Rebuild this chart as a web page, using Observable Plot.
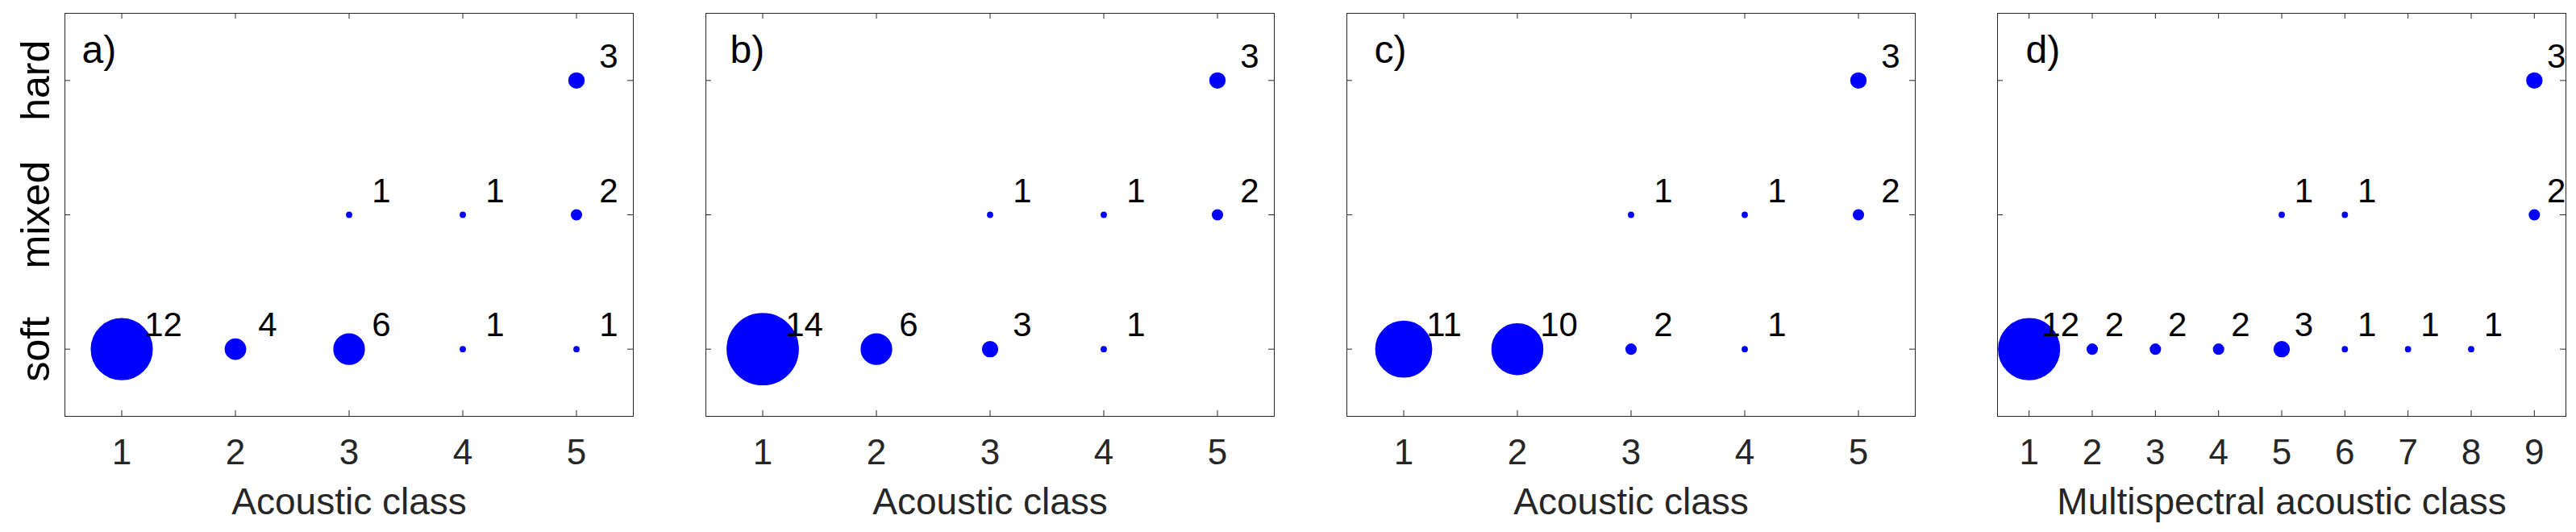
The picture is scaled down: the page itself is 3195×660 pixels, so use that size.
<!DOCTYPE html>
<html><head><meta charset="utf-8">
<script src="https://cdn.jsdelivr.net/npm/d3@7"></script>
<script src="https://cdn.jsdelivr.net/npm/@observablehq/plot@0.6"></script>
<style>
html,body{margin:0;padding:0;background:#fff;}
#wrap{position:relative;width:3195px;height:660px;overflow:hidden;background:#fff;}
#wrap svg{position:absolute;top:0;}
</style></head><body><div id="wrap"></div>
<script>
// ---- data ----
const substrates = ["soft", "mixed", "hard"];
const acousticTicks = [1, 2, 3, 4, 5];
const multispectralTicks = [1, 2, 3, 4, 5, 6, 7, 8, 9];
const panelLabels = ["a)", "b)", "c)", "d)"];
const xTitles = ["Acoustic class", "Acoustic class", "Acoustic class", "Multispectral acoustic class"];

const aClass = [1, 2, 3, 4, 5, 3, 4, 5, 5];
const aSubstrate = ["soft", "soft", "soft", "soft", "soft", "mixed", "mixed", "mixed", "hard"];
const aCount = [12, 4, 6, 1, 1, 1, 1, 2, 3];

const bClass = [1, 2, 3, 4, 3, 4, 5, 5];
const bSubstrate = ["soft", "soft", "soft", "soft", "mixed", "mixed", "mixed", "hard"];
const bCount = [14, 6, 3, 1, 1, 1, 2, 3];

const cClass = [1, 2, 3, 4, 3, 4, 5, 5];
const cSubstrate = ["soft", "soft", "soft", "soft", "mixed", "mixed", "mixed", "hard"];
const cCount = [11, 10, 2, 1, 1, 1, 2, 3];

const dClass = [1, 2, 3, 4, 5, 6, 7, 8, 5, 6, 9, 9];
const dSubstrate = ["soft", "soft", "soft", "soft", "soft", "soft", "soft", "soft", "mixed", "mixed", "mixed", "hard"];
const dCount = [12, 2, 2, 2, 3, 1, 1, 1, 1, 1, 2, 3];

// ---- layout / style ----
const FONT = "'Liberation Sans', Arial, Helvetica, sans-serif";
const AXIS = "#262626";
const BLUE = "#0000ff";
const W = 705, ML = 80, MR = 5, MT = 16, MB = 144, H = 660;

const panels = [
  {cls: aClass, sub: aSubstrate, cnt: aCount, ticks: acousticTicks, left: 80, labelDx: 21},
  {cls: bClass, sub: bSubstrate, cnt: bCount, ticks: acousticTicks, left: 875, labelDx: 30},
  {cls: cClass, sub: cSubstrate, cnt: cCount, ticks: acousticTicks, left: 1670, labelDx: 34},
  {cls: dClass, sub: dSubstrate, cnt: dCount, ticks: multispectralTicks, left: 2477, labelDx: 35}
];

const wrap = document.getElementById("wrap");

panels.forEach((p, i) => {
  const rows = p.cls.map((c, j) => ({cls: c, row: substrates.indexOf(p.sub[j]) + 1, n: p.cnt[j]}));
  const xmax = p.ticks[p.ticks.length - 1] + 0.5;
  const marks = [
    Plot.frame({stroke: AXIS, strokeWidth: 1}),
    Plot.tickX(p.ticks, {x: d => d, insetTop: (H - MT - MB) - 7, stroke: AXIS}),
    Plot.tickX(p.ticks, {x: d => d, insetBottom: (H - MT - MB) - 7, stroke: AXIS}),
    Plot.tickY([1, 2, 3], {y: d => d, insetRight: W - 7, stroke: AXIS}),
    Plot.tickY([1, 2, 3], {y: d => d, insetLeft: W - 7, stroke: AXIS}),
    Plot.dot(rows, {x: "cls", y: "row", r: "n", fill: BLUE, stroke: BLUE, strokeWidth: 1.5}),
    Plot.text(rows, {x: d => d.cls + 0.2, y: d => d.row + 0.095, text: d => String(d.n),
      textAnchor: "start", lineAnchor: "bottom", fontSize: 42, fill: "#000"}),
    Plot.text(p.ticks, {x: d => d, text: d => String(d), frameAnchor: "bottom", dy: 59,
      lineAnchor: "bottom", fontSize: 44, fill: AXIS}),
    Plot.text([xTitles[i]], {text: d => d, frameAnchor: "bottom", dy: 121,
      lineAnchor: "bottom", fontSize: 46, fill: AXIS}),
    Plot.text([panelLabels[i]], {text: d => d, frameAnchor: "top-left", dx: p.labelDx, dy: 61,
      lineAnchor: "bottom", textAnchor: "start", fontSize: 48, fill: "#000"})
  ];
  if (i === 0) {
    marks.push(Plot.text(substrates, {y: (d, k) => k + 1, text: d => d, frameAnchor: "left", dx: -20,
      rotate: -90, lineAnchor: "bottom", textAnchor: "middle", fontSize: 50, fill: "#000"}));
  }
  const svg = Plot.plot({
    width: ML + W + MR, height: H,
    marginLeft: ML, marginRight: MR, marginTop: MT, marginBottom: MB,
    style: {background: "transparent", overflow: "visible", fontFamily: FONT, maxWidth: "none"},
    x: {domain: [0.5, xmax], axis: null},
    y: {domain: [0.5, 3.5], axis: null},
    r: {type: "linear", domain: [0, 14], range: [0, 44.1]},
    marks
  });
  svg.style.left = (p.left - ML) + "px";
  wrap.appendChild(svg);
});
</script>
</body></html>
